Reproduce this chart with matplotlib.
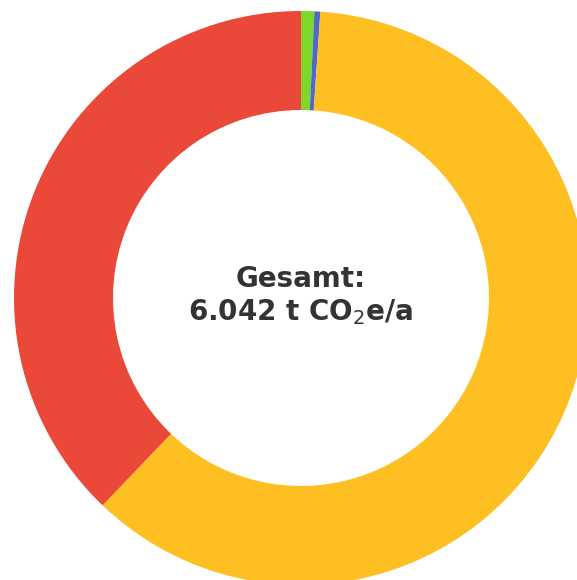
import matplotlib
matplotlib.use("Agg")
import matplotlib.pyplot as plt

# emissions by category (t CO2e/a), clockwise from top
labels = ["Gruen", "Blau", "Gelb", "Rot"]
values = [0.045, 0.020, 3.690, 2.287]
colors = ["#7ed82a", "#4e6ac8", "#febf22", "#ea4838"]
total = 6.042

fig = plt.figure(figsize=(5.77, 5.80), dpi=100)
ax = fig.add_axes([0, 0, 1, 1])

# centre at pixel (301, 298), outer radius 287 px
r_px = 287.0
ax.pie(values, colors=colors, radius=1, startangle=90, counterclock=False,
       wedgeprops=dict(width=1 - 0.655, linewidth=0))
ax.set_aspect("auto")
ax.set_xlim(-301 / r_px, (577 - 301) / r_px)
ax.set_ylim(-(580 - 298) / r_px, 298 / r_px)
ax.axis("off")

ax.text(0, 0.065, "Gesamt:", ha="center", va="center", fontsize=20,
        fontweight="bold", color="#333333")
ax.text(0, -0.05, "6.042 t CO$_2$e/a", ha="center", va="center", fontsize=20,
        fontweight="bold", color="#333333")

fig.savefig("out.png", dpi=100)
